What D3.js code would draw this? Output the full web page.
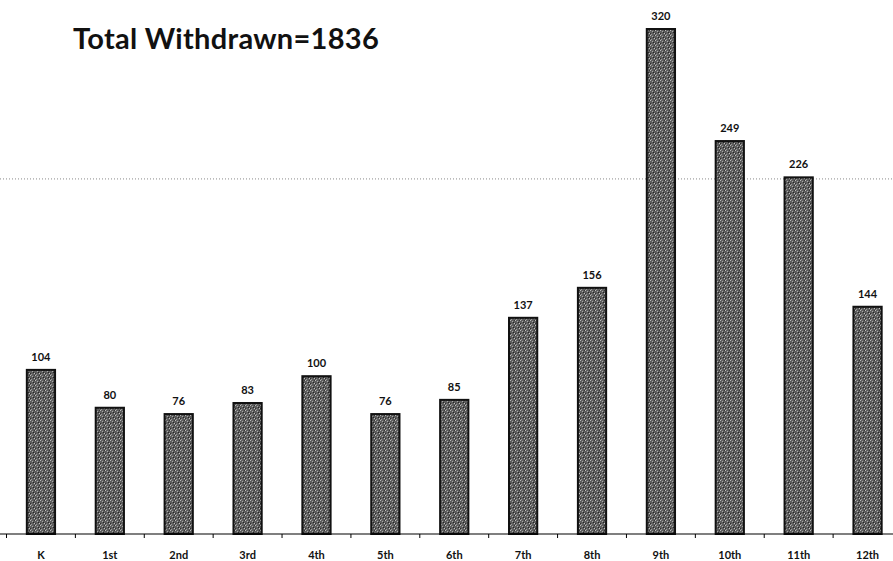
<!DOCTYPE html>
<html><head><meta charset="utf-8">
<script src="https://cdn.jsdelivr.net/npm/d3@7"></script>
<style>body{margin:0;background:#fff}svg{display:block}</style>
</head><body>
<script>
const categories = ["K","1st","2nd","3rd","4th","5th","6th","7th","8th","9th","10th","11th","12th"];
const values = [104,80,76,83,100,76,85,137,156,320,249,226,144];
const gridValues = [225];
const title = "Total Withdrawn=1836";

const W = 893, H = 561;
const svg = d3.select("body").append("svg").attr("width", W).attr("height", H);

const defs = svg.append("defs");
const pat = defs.append("pattern").attr("id","stip").attr("patternUnits","userSpaceOnUse").attr("width",5).attr("height",5);
pat.append("rect").attr("width",5).attr("height",5).attr("fill","#5e5e5e");
[[0,0,"#bdbdbd"],[2,1,"#a8a8a8"],[4,3,"#c4c4c4"],[1,4,"#9a9a9a"],[3,2,"#222"],[0,3,"#2a2a2a"],[4,0,"#333"]].forEach(([px,py,c]) =>
  pat.append("rect").attr("x",px).attr("y",py).attr("width",1).attr("height",1).attr("fill",c));

const x = d3.scaleBand().domain(categories).range([6.5, 902]).paddingInner(0.59).paddingOuter(0.295);
const y = d3.scaleLinear().domain([0, 320]).range([534, 29]);

// gridline
svg.append("g").selectAll("line").data(gridValues).join("line")
  .attr("x1", 0).attr("x2", W).attr("y1", d => y(d)).attr("y2", d => y(d))
  .attr("stroke", "#8a8a8a").attr("stroke-width", 1).attr("stroke-dasharray", "1,2");

// bars
svg.append("g").selectAll("rect").data(values).join("rect")
  .attr("x", (d,i) => x(categories[i]))
  .attr("y", d => y(d))
  .attr("width", x.bandwidth())
  .attr("height", d => y(0) - y(d))
  .attr("fill", "url(#stip)")
  .attr("stroke", "#111").attr("stroke-width", 2);

// value labels
svg.append("g").selectAll("text").data(values).join("text")
  .attr("x", (d,i) => x(categories[i]) + x.bandwidth()/2)
  .attr("y", d => y(d) - 9)
  .attr("text-anchor", "middle")
  .attr("font-family", "Lato, 'Open Sans', sans-serif")
  .attr("font-weight", "bold").attr("font-size", 11).attr("fill", "#111")
  .text(d => d);

// axis
const axisG = svg.append("g");
axisG.append("line").attr("x1", 0).attr("x2", W).attr("y1", y(0)).attr("y2", y(0)).attr("stroke", "#000").attr("stroke-width", 1.2);
const step = x.step();
const tickPos = categories.map(c => x(c) - x.paddingInner()*step/2).concat([x(categories[categories.length-1]) + x.bandwidth() + x.paddingInner()*step/2]);
axisG.selectAll("line.tick").data(tickPos).join("line").attr("class","tick")
  .attr("x1", d => d).attr("x2", d => d).attr("y1", y(0)).attr("y2", y(0) + 4)
  .attr("stroke", "#000");
axisG.selectAll("text").data(categories).join("text")
  .attr("x", d => x(d) + x.bandwidth()/2)
  .attr("y", 559)
  .attr("text-anchor", "middle")
  .attr("font-family", "Lato, 'Open Sans', sans-serif")
  .attr("font-weight", "bold").attr("font-size", 11).attr("fill", "#111")
  .text(d => d);

// title
svg.append("text").attr("x", 73).attr("y", 49)
  .attr("font-family", "Lato, 'Open Sans', sans-serif")
  .attr("font-weight", "bold").attr("font-size", 29).attr("letter-spacing", 0.3).attr("fill", "#111")
  .text(title);
</script>
</body></html>
